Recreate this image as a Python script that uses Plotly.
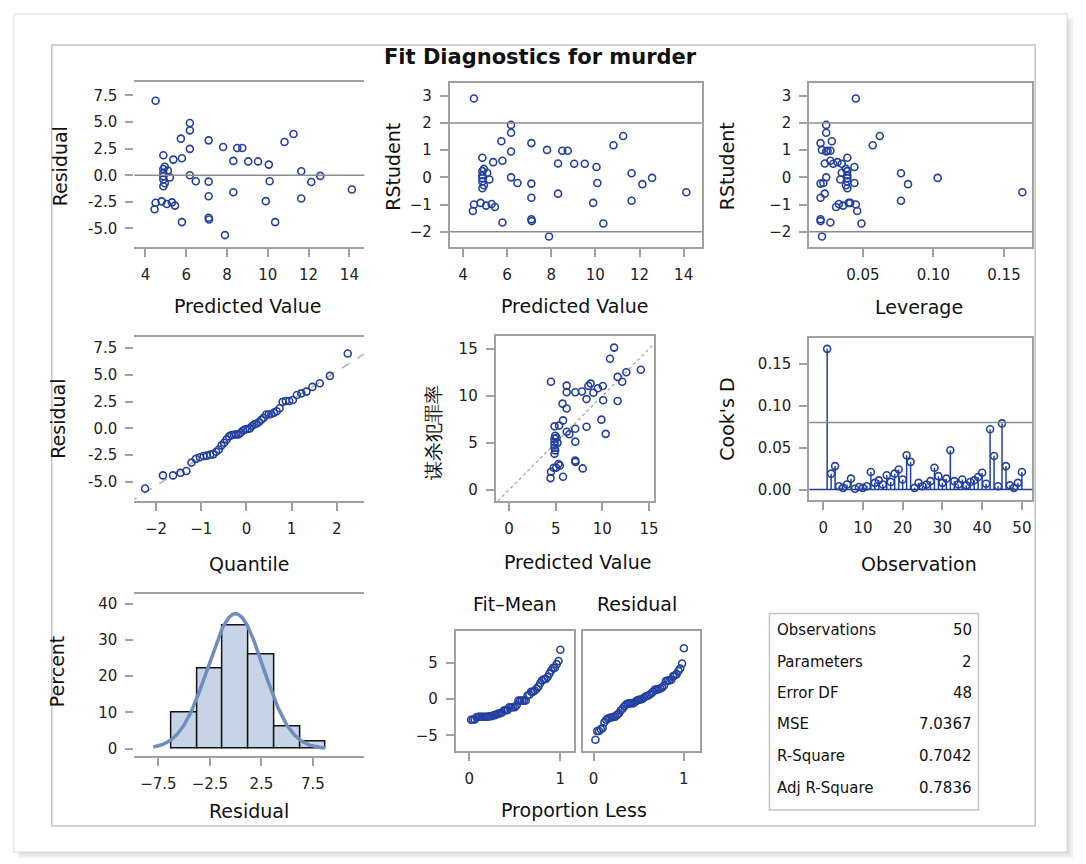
import plotly.graph_objects as go
import numpy as np
from statistics import NormalDist

W, H = 1086, 864

# ---------------- data ----------------
obs_pred = [4.50, 4.88, 5.37, 5.79, 5.74, 6.18, 6.18, 6.18, 6.18, 6.47,
            7.10, 7.10, 7.10, 7.10, 7.12, 7.81, 7.90, 8.50, 8.75, 8.31,
            8.31, 9.04, 9.52, 10.05, 10.09, 9.90, 10.36, 10.82, 11.26, 11.64,
            11.64, 12.13, 12.57, 14.12, 4.88, 4.88, 4.88, 4.88, 4.88, 4.95,
            4.95, 4.50, 4.45, 4.80, 5.05, 5.30, 5.45, 5.79, 5.10, 5.20]
obs_resid = [7.00, 1.88, 1.47, 1.60, 3.44, 4.91, 4.22, 2.48, 0.00, -0.56,
             3.28, -0.60, -1.97, -3.99, -4.15, 2.66, -5.62, 2.56, 2.56, 1.35,
             -1.59, 1.30, 1.30, 1.00, -0.56, -2.43, -4.40, 3.13, 3.88, 0.38,
             -2.18, -0.63, -0.06, -1.34, 0.59, 0.22, -0.09, -0.40, -1.03, 0.80,
             -0.75, -2.58, -3.20, -2.45, -2.70, -2.55, -2.85, -4.40, 0.45, -0.20]
obs_rstudent = [2.90, 0.72, 0.56, 0.61, 1.33, 1.93, 1.64, 0.95, 0.00, -0.21,
                1.26, -0.23, -0.75, -1.54, -1.61, 1.01, -2.18, 0.98, 0.98, 0.51,
                -0.60, 0.50, 0.50, 0.38, -0.21, -0.94, -1.70, 1.18, 1.52, 0.15,
                -0.86, -0.25, -0.02, -0.55, 0.23, 0.08, -0.03, -0.15, -0.40, 0.31,
                -0.29, -1.00, -1.24, -0.94, -1.04, -0.98, -1.09, -1.66, 0.17, -0.08]
obs_leverage = [0.045, 0.039, 0.032, 0.027, 0.028, 0.024, 0.024, 0.024, 0.024, 0.022,
                0.020, 0.020, 0.020, 0.020, 0.020, 0.021, 0.021, 0.025, 0.027, 0.023,
                0.023, 0.029, 0.035, 0.044, 0.044, 0.041, 0.049, 0.057, 0.062, 0.077,
                0.077, 0.082, 0.103, 0.163, 0.039, 0.039, 0.039, 0.039, 0.039, 0.038,
                0.038, 0.045, 0.046, 0.040, 0.036, 0.033, 0.031, 0.027, 0.035, 0.034]
cooks_d = [0.168, 0.019, 0.028, 0.004, 0.002, 0.006, 0.013, 0.001, 0.003, 0.002,
           0.004, 0.021, 0.008, 0.011, 0.006, 0.017, 0.009, 0.019, 0.024, 0.012,
           0.041, 0.033, 0.002, 0.008, 0.004, 0.006, 0.010, 0.026, 0.016, 0.008,
           0.013, 0.047, 0.010, 0.006, 0.012, 0.005, 0.009, 0.011, 0.015, 0.020,
           0.007, 0.072, 0.040, 0.004, 0.079, 0.028, 0.005, 0.002, 0.008, 0.021]
stat_labels = ["Observations", "Parameters", "Error DF", "MSE", "R-Square", "Adj R-Square"]
stat_values = ["50", "2", "48", "7.0367", "0.7042", "0.7836"]
hist_start, hist_width = -6.25, 2.5

# ---------------- derived ----------------
pred = np.array(obs_pred)
resid = np.array(obs_resid)
observed = pred + resid
n = len(pred)
obs_index = np.arange(1, n + 1)
nd = NormalDist()
sorted_res = np.sort(resid)
quantiles = np.array([nd.inv_cdf((i + 1 - 0.375) / (n + 0.25)) for i in range(n)])
r_mean, r_sd = resid.mean(), resid.std(ddof=1)
prop_less = np.arange(1, n + 1) / n
fit_mean = np.sort(pred - pred.mean())

# ---------------- style ----------------
BLUE = "#2340A0"
FRAME = "#A0A0A0"
REF = "#8C8C8C"
FONT = "DejaVu Sans"


def dx(a, b):
    return [a / W, b / W]


def dy(a, b):
    return [1 - b / H, 1 - a / H]


def axis(dom, rng, tickvals, ticktext=None, anchor=None, showline=True, mirror=True,
         showticklabels=True, ticks="outside"):
    d = dict(domain=dom, range=rng, tickvals=tickvals, showline=showline, mirror=mirror,
             linecolor=FRAME, linewidth=2, ticks=ticks, ticklen=8, tickwidth=1.5,
             tickcolor=FRAME, showgrid=False, zeroline=False, anchor=anchor,
             showticklabels=showticklabels, ticklabelstandoff=5,
             tickfont=dict(family=FONT, size=15, color="#222"))
    if ticktext is not None:
        d["ticktext"] = ticktext
    return d


def circles(x, y, xa, ya, size=7):
    return go.Scatter(x=x, y=y, mode="markers", xaxis=xa, yaxis=ya,
                      marker=dict(symbol="circle-open", size=size, color=BLUE,
                                  line=dict(width=1.6, color=BLUE)),
                      showlegend=False, hoverinfo="x+y")


fig = go.Figure()

# panel 1: residual vs predicted
fig.add_trace(circles(pred, resid, "x", "y"))
# panel 2: rstudent vs predicted
fig.add_trace(circles(pred, obs_rstudent, "x2", "y2"))
# panel 3: rstudent vs leverage
fig.add_trace(circles(obs_leverage, obs_rstudent, "x3", "y3"))
# panel 4: QQ
fig.add_trace(go.Scatter(x=[-2.6, 2.7], y=[r_mean - 2.6 * r_sd, r_mean + 2.7 * r_sd],
                         mode="lines", xaxis="x4", yaxis="y4",
                         line=dict(color="#B0B0B0", width=1.5, dash="dash"),
                         showlegend=False, hoverinfo="skip"))
fig.add_trace(circles(quantiles, sorted_res, "x4", "y4"))
# panel 5: observed vs predicted
fig.add_trace(go.Scatter(x=[-3, 18], y=[-3, 18], mode="lines", xaxis="x5", yaxis="y5",
                         line=dict(color="#B0B0B0", width=1.5, dash="dot"),
                         showlegend=False, hoverinfo="skip"))
fig.add_trace(circles(pred, observed, "x5", "y5"))
# panel 6: Cook's D
stem_x, stem_y = [], []
for i, d in zip(obs_index, cooks_d):
    stem_x += [i, i, None]
    stem_y += [0, d, None]
fig.add_trace(go.Scatter(x=stem_x, y=stem_y, mode="lines", xaxis="x6", yaxis="y6",
                         line=dict(color=BLUE, width=1.5), showlegend=False, hoverinfo="skip"))
fig.add_trace(circles(obs_index, cooks_d, "x6", "y6"))
# panel 7: histogram + normal curve
fig.add_trace(go.Histogram(x=resid, xaxis="x7", yaxis="y7", histnorm="percent",
                           xbins=dict(start=hist_start, end=hist_start + 6 * hist_width, size=hist_width),
                           marker=dict(color="#C7D4E8", line=dict(color="#111", width=1.5)),
                           showlegend=False))
gx = np.linspace(-8.0, 8.7, 200)
gy = 100 * hist_width * np.array([NormalDist(r_mean, r_sd).pdf(v) for v in gx])
fig.add_trace(go.Scatter(x=gx, y=gy, mode="lines", xaxis="x7", yaxis="y7",
                         line=dict(color="#6F8DBE", width=3.5), showlegend=False, hoverinfo="skip"))
# panel 8: residual-fit spread
fig.add_trace(circles(prop_less, fit_mean, "x8", "y8"))
fig.add_trace(circles(prop_less, sorted_res, "x9", "y9"))

layout = dict(
    width=W, height=H, margin=dict(l=0, r=0, t=0, b=0),
    paper_bgcolor="white", plot_bgcolor="white", bargap=0,
    font=dict(family=FONT, size=15, color="#222"),
    xaxis=axis(dx(135, 366), [3.46, 14.73], [4, 6, 8, 10, 12, 14], anchor="y"),
    yaxis=axis(dy(82, 248), [-6.78, 8.78], [-5, -2.5, 0, 2.5, 5, 7.5],
               ["-5.0", "-2.5", "0.0", "2.5", "5.0", "7.5"], anchor="x", showline=False),
    xaxis2=axis(dx(452, 705), [3.41, 14.82], [4, 6, 8, 10, 12, 14], anchor="y2"),
    yaxis2=axis(dy(83, 248), [-2.58, 3.48], [-2, -1, 0, 1, 2, 3], anchor="x2"),
    xaxis3=axis(dx(813, 1037), [0.012, 0.170], [0.05, 0.10, 0.15], ["0.05", "0.10", "0.15"], anchor="y3"),
    yaxis3=axis(dy(83, 248), [-2.58, 3.48], [-2, -1, 0, 1, 2, 3], anchor="x3"),
    xaxis4=axis(dx(135, 366), [-2.48, 2.61], [-2, -1, 0, 1, 2], anchor="y4"),
    yaxis4=axis(dy(338, 502), [-6.78, 8.53], [-5, -2.5, 0, 2.5, 5, 7.5],
                ["-5.0", "-2.5", "0.0", "2.5", "5.0", "7.5"], anchor="x4", showline=False),
    xaxis5=axis(dx(498, 657), [-1.42, 15.53], [0, 5, 10, 15], anchor="y5"),
    yaxis5=axis(dy(337, 502), [-1.17, 16.35], [0, 5, 10, 15], anchor="x5"),
    xaxis6=axis(dx(813, 1037), [-3.5, 52.6], [0, 10, 20, 30, 40, 50], anchor="y6"),
    yaxis6=axis(dy(339, 501), [-0.0123, 0.1807], [0, 0.05, 0.10, 0.15],
                ["0.00", "0.05", "0.10", "0.15"], anchor="x6"),
    xaxis7=axis(dx(135, 366), [-9.84, 12.5], [-7.5, -2.5, 2.5, 7.5], anchor="y7"),
    yaxis7=axis(dy(595, 758), [-2.1, 42.8], [0, 10, 20, 30, 40], anchor="x7", showline=False),
    xaxis8=axis(dx(458, 577), [-0.147, 1.154], [0, 1], anchor="y8"),
    yaxis8=axis(dy(632, 753), [-7.2, 9.45], [-5, 0, 5], anchor="x8"),
    xaxis9=axis(dx(586, 703), [-0.114, 1.176], [0, 1], anchor="y9"),
    yaxis9=axis(dy(632, 753), [-7.2, 9.45], [-5, 0, 5], anchor="x9", showticklabels=False, ticks=""),
)
fig.update_layout(**layout)

shapes = []


def hline(y, xa, ya, color=REF, width=1.5):
    shapes.append(dict(type="line", xref=f"{xa} domain", yref=ya, x0=0, x1=1, y0=y, y1=y,
                       line=dict(color=color, width=width)))


hline(0, "x", "y")
hline(2, "x2", "y2")
hline(-2, "x2", "y2")
hline(2, "x3", "y3")
hline(-2, "x3", "y3")
hline(4 / n, "x6", "y6")
hline(0, "x6", "y6", color=BLUE, width=1.5)


def prect(x0, y0, x1, y1, color, width=1.5, fill=None):
    shapes.append(dict(type="rect", xref="paper", yref="paper", x0=x0 / W, x1=x1 / W,
                       y0=1 - y1 / H, y1=1 - y0 / H, line=dict(color=color, width=width),
                       fillcolor=fill, layer="below"))


# page card with soft shadow, inner border and statistics box
for k, c in enumerate(["#F2F2F2", "#E8E8E8", "#DEDEDE"]):
    prect(18 + 2 * k, 18 + 2 * k, 1078 - 2 * k, 860 - 2 * k, c, 0, fill=c)
prect(14, 14, 1072, 854, "#D6D6D6", 1, fill="white")
prect(52, 45, 1040, 828, "#C4C4C4", 1.5)
prect(773, 615, 983, 812, "#C4C4C4", 1.5)
fig.update_layout(shapes=shapes)

anns = []


def ann(text, px, py, size=19, angle=0, xanchor="center", bold=False):
    anns.append(dict(text=f"<b>{text}</b>" if bold else text, x=px / W, y=1 - py / H,
                     xref="paper", yref="paper", showarrow=False, textangle=angle,
                     xanchor=xanchor, yanchor="middle",
                     font=dict(family=FONT, size=size, color="#111")))


ann("Fit Diagnostics for murder", 543, 57, size=21, bold=True)
ann("Residual", 60, 167, angle=-90)
ann("Predicted Value", 249, 307)
ann("RStudent", 394, 167, angle=-90)
ann("Predicted Value", 577, 307)
ann("RStudent", 730, 167, angle=-90)
ann("Leverage", 923, 308)
ann("Residual", 58, 420, angle=-90)
ann("Quantile", 250, 565)
ann("谋杀犯罪率", 435, 433, angle=-90)
ann("Predicted Value", 580, 563)
ann("Cook's D", 730, 420, angle=-90)
ann("Observation", 923, 565)
ann("Percent", 58, 673, angle=-90)
ann("Residual", 250, 813)
ann("Fit–Mean", 517, 605)
ann("Residual", 640, 605)
ann("Proportion Less", 577, 812)
row_y = [631.7, 663.3, 694.7, 726, 757.7, 789.7]
for lab, val, yy in zip(stat_labels, stat_values, row_y):
    ann(lab, 779, yy, size=15, xanchor="left")
    ann(val, 979, yy, size=15, xanchor="right")
fig.update_layout(annotations=anns)

fig.write_html("out.html", config={"displayModeBar": False},
               post_script="document.body.style.margin='0px';document.body.style.overflow='hidden';")
